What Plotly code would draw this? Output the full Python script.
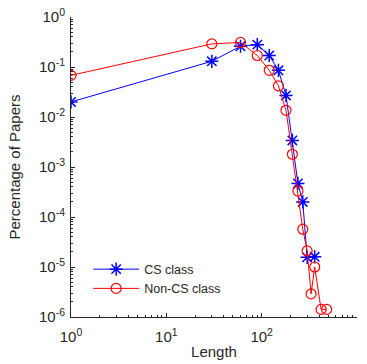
import plotly.graph_objects as go

cs_x = [1, 30, 60, 90, 120, 150, 180, 210, 240, 270, 300, 360]
cs_y = [0.02, 0.13, 0.26, 0.28, 0.17, 0.086, 0.027, 0.0034, 4.7e-4, 2.0e-4, 1.56e-5, 1.6e-5]

non_x = [1, 30, 60, 90, 120, 150, 180, 210, 240, 270, 300, 330, 360, 420, 480]
non_y = [0.068, 0.29, 0.31, 0.17, 0.086, 0.042, 0.0136, 0.0018, 3.3e-4, 5.7e-5, 2.1e-5, 2.9e-6, 1.0e-5, 1.42e-6, 1.42e-6]

x_tickvals = [1, 10, 100, 1000]
x_ticktext = ["10<sup>0</sup>", "10<sup>1</sup>", "10<sup>2</sup>", "10<sup>3</sup>"]
y_tickvals = [1e-6, 1e-5, 1e-4, 1e-3, 1e-2, 1e-1, 1]
y_ticktext = ["10<sup>-6</sup>", "10<sup>-5</sup>", "10<sup>-4</sup>", "10<sup>-3</sup>",
              "10<sup>-2</sup>", "10<sup>-1</sup>", "10<sup>0</sup>"]

x_minor = [m * 10 ** d for d in range(0, 3) for m in range(2, 10)]
y_minor = [m * 10.0 ** d for d in range(-6, 0) for m in range(2, 10)]

fig = go.Figure()
fig.add_trace(go.Scatter(
    x=cs_x, y=cs_y, mode="lines+markers", name="CS class",
    line=dict(color="#0000FF", width=1),
    marker=dict(symbol="asterisk-open", size=11, color="#0000FF",
                line=dict(color="#0000FF", width=1.5)),
))
fig.add_trace(go.Scatter(
    x=non_x, y=non_y, mode="lines+markers", name="Non-CS class",
    line=dict(color="#FF0000", width=1),
    marker=dict(symbol="circle-open", size=10, color="#FF0000",
                line=dict(color="#FF0000", width=1.2)),
))

axis_common = dict(
    type="log", showgrid=False, zeroline=False, showline=True, automargin=False,
    linecolor="#262626", linewidth=1, ticks="inside", ticklen=4,
    tickcolor="#262626", mirror=False,
    tickfont=dict(family="Liberation Sans, Arial", size=15, color="#262626"),
)

fig.update_layout(
    width=367, height=364,
    margin=dict(l=71, r=10, t=17, b=47),
    paper_bgcolor="white", plot_bgcolor="white",
    font=dict(family="Liberation Sans, Arial", size=14, color="#262626"),
    xaxis=dict(**axis_common, range=[0, 3], tickvals=x_tickvals, ticktext=x_ticktext,
               ticklabelstandoff=6,
               minor=dict(tickmode="array", tickvals=x_minor, ticks="inside", ticklen=2,
                          tickcolor="#262626", showgrid=False),
               title=dict(text="Length", font=dict(size=15), standoff=2)),
    yaxis=dict(**axis_common, range=[-6, 0], tickvals=y_tickvals, ticktext=y_ticktext,
               ticklabelstandoff=2,
               minor=dict(tickmode="array", tickvals=y_minor, ticks="inside", ticklen=2,
                          tickcolor="#262626", showgrid=False),
               title=dict(text="Percentage of Papers", font=dict(size=15), standoff=14)),
    legend=dict(x=0.06, y=0.045, xanchor="left", yanchor="bottom",
                bgcolor="rgba(0,0,0,0)", borderwidth=0, itemwidth=46,
                font=dict(size=12.5, color="#262626"), tracegroupgap=0),
    showlegend=True,
)

fig.write_html("out.html", config={"displayModeBar": False},
               post_script="document.body.style.margin='0';")
